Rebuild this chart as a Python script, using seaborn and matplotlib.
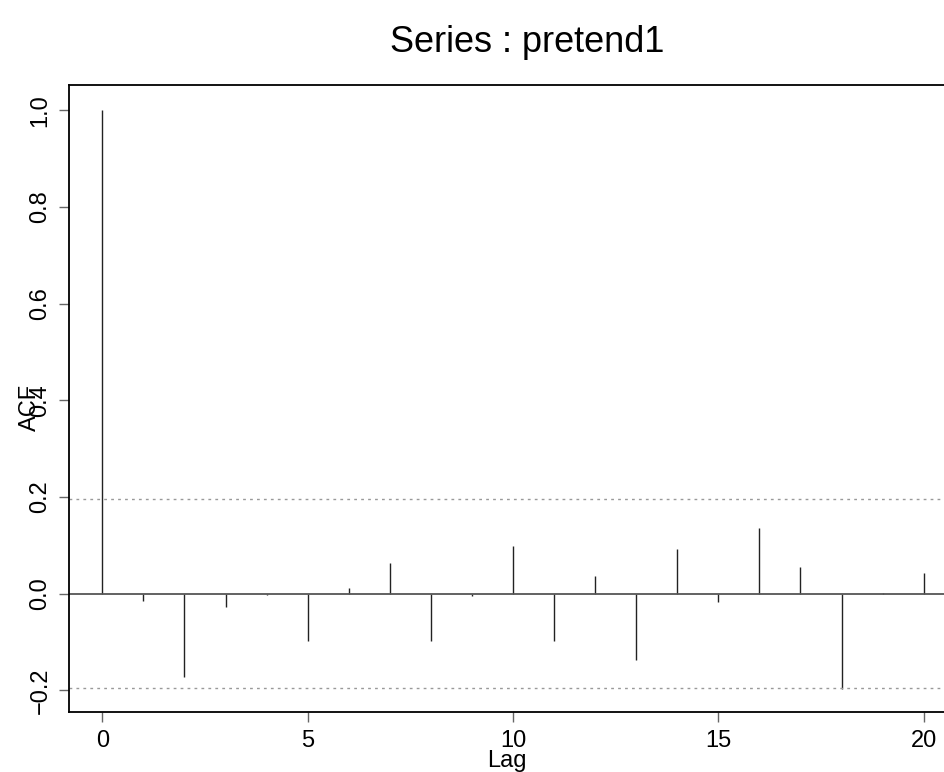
import matplotlib
matplotlib.use("Agg")
import matplotlib.pyplot as plt
import numpy as np
import pandas as pd
import seaborn as sns

# ACF values, lags 0..20
lags = list(range(21))
acf_values = [1.0, -0.016, -0.173, -0.027, -0.003, -0.099, 0.012, 0.063,
              -0.098, -0.005, 0.098, -0.098, 0.037, -0.138, 0.092, -0.018,
              0.135, 0.054, -0.198, 0.002, 0.043]
conf_bound = 0.196
series_name = "pretend1"

sns.set_theme(style="ticks")
plt.rcParams['font.family'] = ['Liberation Sans', 'DejaVu Sans']
plt.rcParams['text.color'] = 'black'

df = pd.DataFrame({"Lag": lags, "ACF": acf_values})

fig = plt.figure(figsize=(9.45, 7.72), dpi=100)
ax = fig.add_axes([0.0735, 0.0777, 0.93, 0.8122])

ax.vlines(df["Lag"], 0, df["ACF"], color="#222222", linewidth=1.0)
ax.axhline(0, color="#555555", linewidth=1.3)
ax.axhline(conf_bound, color="#999999", linewidth=1.0, linestyle=(0, (2, 3)))
ax.axhline(-conf_bound, color="#999999", linewidth=1.0, linestyle=(0, (2, 3)))

ax.set_xlim(-0.8, 20.6)
ax.set_ylim(-0.245, 1.052)
ax.set_xticks([0, 5, 10, 15, 20])
ax.set_yticks([-0.2, 0.0, 0.2, 0.4, 0.6, 0.8, 1.0])
ax.set_yticklabels(["\u22120.2", "0.0", "0.2", "0.4", "0.6", "0.8", "1.0"],
                   rotation=90, va="center")

ax.tick_params(axis="both", direction="out", length=7, width=1.0,
               color="#666666", labelsize=17, labelcolor="black")
ax.tick_params(axis="x", pad=6)
ax.tick_params(axis="y", pad=6)

for sp in ax.spines.values():
    sp.set_color("black")
    sp.set_linewidth(1.3)
    sp.set_visible(True)

fig.text(0.5365, 1 - 761 / 772, "Lag", ha="center", va="center",
         fontsize=17, color="black")
fig.text(30 / 945, 1 - 407 / 772, "ACF", ha="center", va="center",
         rotation=90, fontsize=17, color="black")
fig.text(527 / 945, 1 - 42 / 772, "Series : " + series_name,
         ha="center", va="center", fontsize=26, color="black")

fig.savefig("out.png", dpi=100)
